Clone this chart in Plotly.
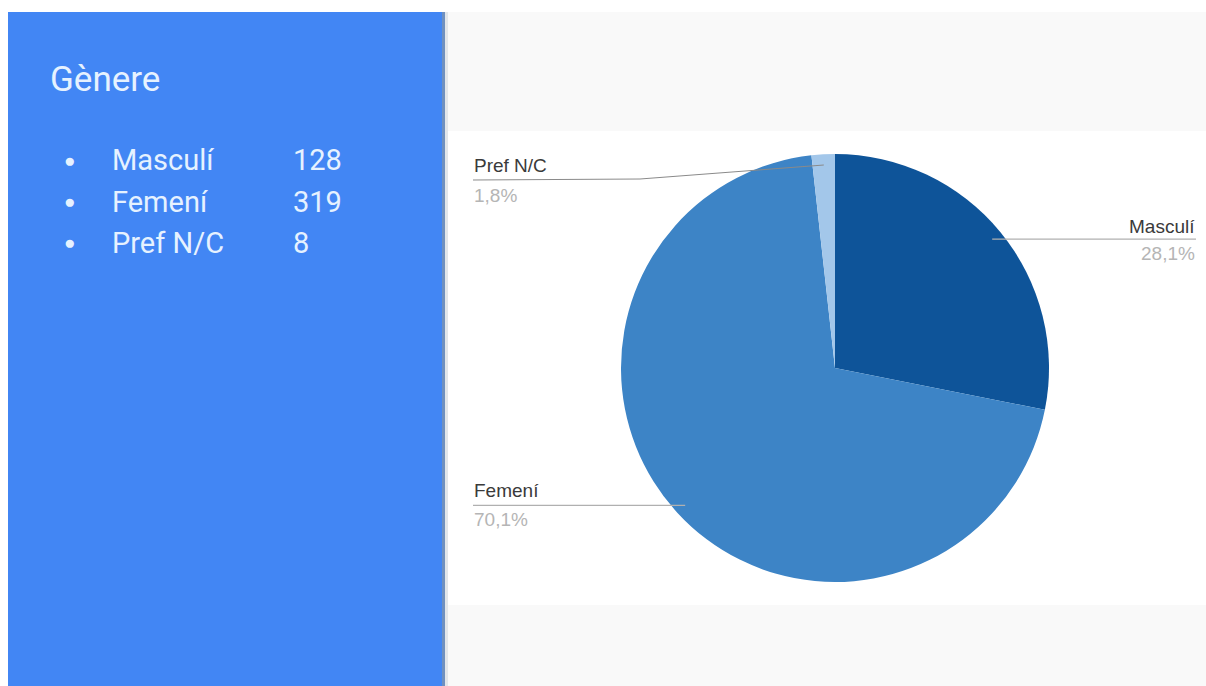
import math
import plotly.graph_objects as go

# Survey responses by gender
categories = ["Masculí", "Femení", "Pref N/C"]
counts = [128, 319, 8]
pct_labels = ["28,1%", "70,1%", "1,8%"]
slice_colors = ["#0e5499", "#3d84c6", "#a3c7ea"]

W, H = 1206, 686


def px(x):
    return x / W


def py(y):
    return 1 - y / H


# Pie geometry in pixels
CX, CY, R = 835, 368, 214

fig = go.Figure()

fig.add_trace(go.Pie(
    labels=categories,
    values=counts,
    sort=False,
    direction="clockwise",
    rotation=0,
    marker=dict(colors=slice_colors, line=dict(width=0)),
    textinfo="none",
    hoverinfo="label+value+percent",
    showlegend=False,
    domain=dict(x=[px(CX - R), px(CX + R)], y=[py(CY + R), py(CY - R)]),
))

shapes = [
    # blue side panel
    dict(type="rect", xref="paper", yref="paper", x0=px(8), x1=px(443), y0=0, y1=py(12),
         fillcolor="#4286f4", line=dict(width=0), layer="below"),
    # panel edge shadow
    dict(type="rect", xref="paper", yref="paper", x0=px(442), x1=px(445), y0=0, y1=py(12),
         fillcolor="#6f90bf", line=dict(width=0), layer="below"),
    dict(type="rect", xref="paper", yref="paper", x0=px(445), x1=px(448), y0=0, y1=py(12),
         fillcolor="#e2e6ea", line=dict(width=0), layer="below"),
    # light grey content area
    dict(type="rect", xref="paper", yref="paper", x0=px(448), x1=1, y0=0, y1=py(12),
         fillcolor="#f9f9f9", line=dict(width=0), layer="below"),
    # white chart band
    dict(type="rect", xref="paper", yref="paper", x0=px(448), x1=1, y0=py(605), y1=py(131),
         fillcolor="#ffffff", line=dict(width=0), layer="below"),
]

# Leader lines from each slice's mid-angle to its label
total = sum(counts)
cum = 0
anchors = []
for v in counts:
    mid = (cum + v / 2) / total * 2 * math.pi
    cum += v
    ax = CX + 0.95 * R * math.sin(mid)
    ay = CY - 0.95 * R * math.cos(mid)
    anchors.append((ax, ay))

line_style = dict(color="#b0b0b0", width=1.2)
# Masculí: horizontal to the right
shapes.append(dict(type="line", xref="paper", yref="paper",
                   x0=px(anchors[0][0]), y0=py(anchors[0][1]), x1=px(1196), y1=py(anchors[0][1]),
                   line=line_style))
# Femení: horizontal to the left
shapes.append(dict(type="line", xref="paper", yref="paper",
                   x0=px(anchors[1][0]), y0=py(anchors[1][1]), x1=px(473), y1=py(anchors[1][1]),
                   line=line_style))
# Pref N/C: slanted then horizontal to the left
pa = anchors[2]
shapes.append(dict(type="line", xref="paper", yref="paper",
                   x0=px(pa[0]), y0=py(pa[1]), x1=px(640), y1=py(179),
                   line=dict(color="#8a8a8a", width=1)))
shapes.append(dict(type="line", xref="paper", yref="paper",
                   x0=px(640), y0=py(179), x1=px(473), y1=py(180),
                   line=dict(color="#8a8a8a", width=1)))

annotations = []


def txt(x, y, s, size, color, xanchor="left", family="Roboto"):
    annotations.append(dict(x=px(x), y=py(y), xref="paper", yref="paper", text=s,
                            showarrow=False, xanchor=xanchor, yanchor="middle",
                            font=dict(family=family, size=size, color=color)))


# Side panel title and summary list
panel_text = "#e6f2ff"
txt(48, 80, "Gènere", 35, panel_text)
row_y = [160, 202, 243]
for cat, n, y in zip(categories, counts, row_y):
    txt(62, y, "●", 19, panel_text)
    txt(110, y, cat, 29, panel_text)
    txt(291, y, str(n), 29, panel_text)

# Slice labels
lab_col = "#3a3a3a"
pct_col = "#b5b5b5"
lf = "Liberation Sans"
txt(1197, 226, categories[0], 19, lab_col, "right", lf)
txt(1197, 253, pct_labels[0], 19, pct_col, "right", lf)
txt(472, 490, categories[1], 19, lab_col, family=lf)
txt(472, 519, pct_labels[1], 19, pct_col, family=lf)
txt(472, 165, categories[2], 19, lab_col, family=lf)
txt(472, 195, pct_labels[2], 19, pct_col, family=lf)

fig.update_layout(
    width=W, height=H,
    margin=dict(l=0, r=0, t=0, b=0),
    paper_bgcolor="#ffffff",
    plot_bgcolor="#ffffff",
    shapes=shapes,
    annotations=annotations,
)

fig.write_html("out.html")
